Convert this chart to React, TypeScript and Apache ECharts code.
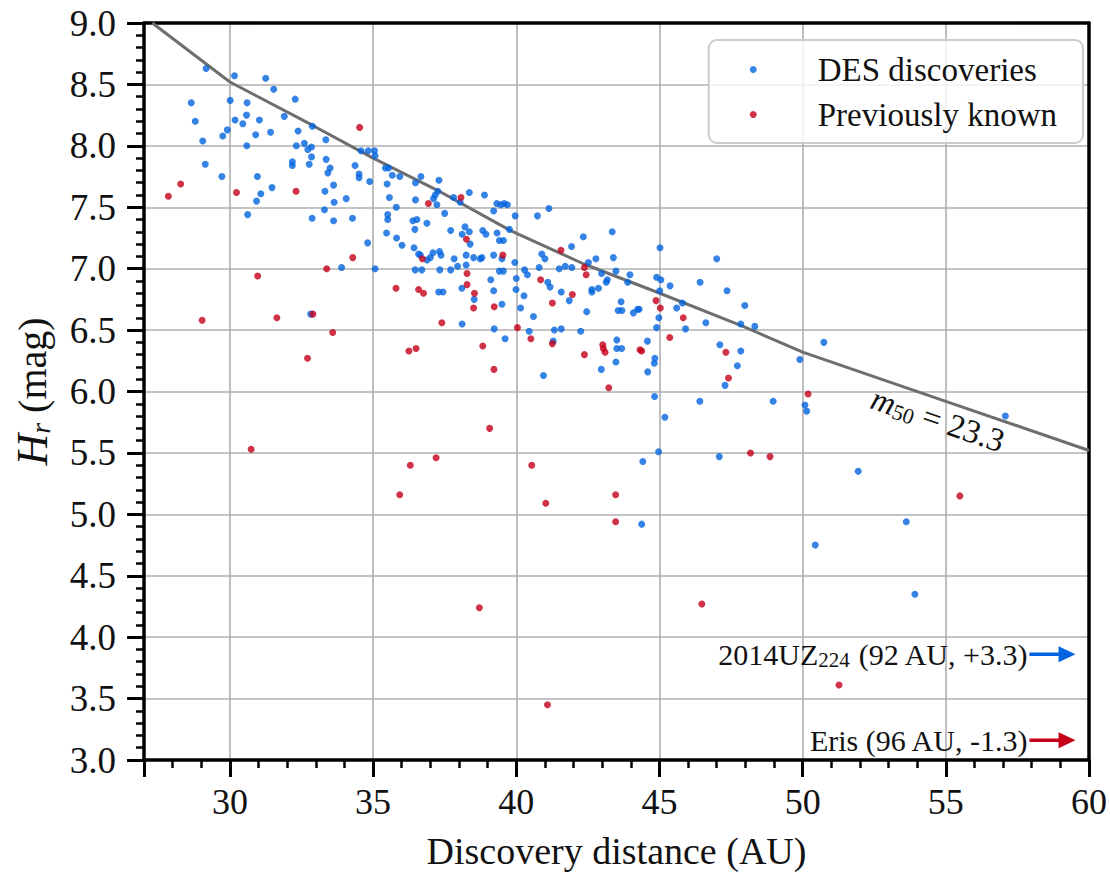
import React, { useEffect, useRef } from 'react';
import * as echarts from 'echarts';

const desDiscoveries: [number, number][] = [
  [29.17, 8.63], [30.16, 8.57], [31.25, 8.55], [31.53, 8.46], [28.65, 8.35], [30.01, 8.37], [30.6, 8.35], [32.28, 8.38],
  [28.79, 8.2], [30.18, 8.21], [30.58, 8.25], [31.03, 8.21], [30.45, 8.18], [31.9, 8.24], [29.91, 8.13], [29.75, 8.08],
  [30.9, 8.09], [31.42, 8.11], [32.38, 8.12], [32.88, 8.16], [29.05, 8.04], [33.35, 8.05], [30.59, 8.0], [32.32, 8.0],
  [32.6, 8.02], [32.72, 7.97], [32.85, 7.99], [32.85, 7.91], [32.18, 7.87], [32.18, 7.84], [32.77, 7.85], [33.36, 7.89],
  [33.5, 7.82], [33.42, 7.78], [34.37, 7.84], [34.51, 7.77], [34.51, 7.74], [34.88, 7.71], [29.14, 7.85], [29.72, 7.75],
  [30.96, 7.75], [31.47, 7.66], [31.08, 7.61], [30.93, 7.55], [30.62, 7.44], [32.87, 7.41], [33.3, 7.48], [33.32, 7.63],
  [33.62, 7.68], [33.64, 7.54], [34.06, 7.57], [33.62, 7.39], [34.28, 7.41], [34.81, 7.21], [33.9, 7.01], [34.58, 7.96],
  [34.83, 7.96], [35.05, 7.96], [35.07, 7.92], [35.07, 7.0],
  [35.43, 7.82], [35.54, 7.82], [35.67, 7.76], [35.93, 7.75], [36.67, 7.75], [37.3, 7.72], [36.48, 7.7], [35.49, 7.69],
  [37.26, 7.63], [37.17, 7.6], [37.11, 7.57], [37.81, 7.58], [38.04, 7.54], [38.36, 7.62], [38.89, 7.6], [35.57, 7.58],
  [37.23, 7.52], [36.48, 7.56], [35.81, 7.5], [35.51, 7.44], [35.51, 7.4], [37.5, 7.45], [39.32, 7.53], [39.46, 7.52],
  [39.58, 7.53], [39.69, 7.52], [39.21, 7.47], [39.96, 7.43], [40.74, 7.43], [41.14, 7.49], [36.39, 7.39], [36.53, 7.4],
  [36.46, 7.32], [36.88, 7.37], [37.71, 7.31], [38.21, 7.34], [38.11, 7.28], [38.36, 7.3], [38.83, 7.31], [38.94, 7.28],
  [39.33, 7.29], [39.76, 7.32], [39.41, 7.23], [39.55, 7.23], [38.39, 7.2], [35.47, 7.29], [35.82, 7.25], [36.01, 7.19],
  [36.43, 7.17], [36.59, 7.12], [36.65, 7.11], [36.88, 7.07], [37.0, 7.09], [37.09, 7.13], [37.32, 7.14], [37.37, 7.11],
  [37.83, 7.08], [37.95, 7.02], [38.25, 7.11], [38.25, 7.03], [38.51, 7.09], [38.74, 7.08], [38.8, 7.09], [39.21, 7.11],
  [39.5, 7.08], [39.95, 7.05], [40.29, 6.99], [40.89, 7.12], [41.0, 7.08], [41.93, 7.18], [42.34, 7.26], [42.52, 7.05],
  [42.78, 7.08], [41.5, 7.0], [41.71, 7.02], [41.94, 7.01], [40.8, 7.01],
  [36.47, 6.99], [36.7, 6.99], [37.33, 6.99], [37.71, 6.99], [39.41, 6.98], [39.55, 6.98], [40.39, 6.95], [37.29, 6.81],
  [37.44, 6.81], [38.1, 6.84], [38.53, 6.75], [39.11, 6.91], [39.21, 6.82], [39.5, 6.71], [40.0, 6.92], [39.99, 6.83],
  [40.27, 6.78], [40.15, 6.68], [40.6, 6.61], [41.1, 6.89], [41.18, 6.85], [41.57, 6.81], [41.85, 6.74], [42.46, 6.65],
  [38.11, 6.55], [39.23, 6.51], [39.61, 6.43], [40.45, 6.49], [41.33, 6.5], [41.57, 6.51], [41.29, 6.41], [42.25, 6.49],
  [40.95, 6.13], [32.82, 6.63],
  [42.98, 6.96], [43.14, 6.89], [43.18, 6.91], [42.64, 6.83], [42.64, 6.81], [42.87, 6.84], [43.48, 6.98], [43.97, 6.95],
  [43.89, 6.89], [44.9, 6.93], [45.05, 6.91], [45.37, 6.86], [45.01, 6.82], [46.42, 6.89], [47.36, 6.82], [43.66, 6.73],
  [43.56, 6.66], [43.69, 6.66], [44.09, 6.64], [44.24, 6.67], [44.29, 6.67], [44.98, 6.6], [44.9, 6.52], [45.6, 6.68],
  [45.8, 6.72], [45.91, 6.51], [46.62, 6.56], [47.98, 6.7], [47.84, 6.55], [48.33, 6.53], [43.51, 6.42], [43.51, 6.35],
  [43.68, 6.35], [44.58, 6.41], [43.48, 6.24], [42.97, 6.18], [44.59, 6.16], [44.84, 6.27], [44.82, 6.23], [47.11, 6.38],
  [47.84, 6.33], [47.72, 6.21], [47.29, 6.05], [49.9, 6.26], [44.83, 5.96], [45.19, 5.79], [46.41, 5.92], [48.97, 5.92],
  [50.08, 5.89], [50.14, 5.84], [44.97, 5.51], [44.42, 5.43], [47.09, 5.47], [44.38, 4.92],
  [43.35, 7.3], [45.02, 7.17], [43.39, 7.09], [47.0, 7.08],
  [50.74, 6.4], [57.08, 5.8], [51.94, 5.35], [53.62, 4.94], [50.44, 4.75], [53.92, 4.35],
];

const previouslyKnown: [number, number][] = [
  [34.53, 8.15], [28.28, 7.69], [27.85, 7.59], [30.23, 7.62], [32.31, 7.63], [34.29, 7.09], [33.38, 7.0],
  [38.07, 7.58], [36.93, 7.53], [38.26, 7.24], [36.72, 7.08], [39.53, 7.11], [41.56, 7.15], [42.38, 7.01],
  [38.28, 6.96], [35.8, 6.84], [36.59, 6.83], [36.76, 6.8], [38.28, 6.87], [38.54, 6.8], [38.51, 6.68], [39.23, 6.69],
  [40.85, 6.91], [41.26, 6.72], [41.96, 6.79], [37.4, 6.56], [40.04, 6.52], [40.51, 6.43], [41.26, 6.39], [42.38, 6.3],
  [36.25, 6.33], [36.5, 6.35], [38.83, 6.37], [39.22, 6.18], [39.07, 5.7], [37.2, 5.46], [36.3, 5.4], [40.54, 5.4],
  [35.93, 5.16], [41.03, 5.09], [42.44, 6.95],
  [30.97, 6.94], [29.03, 6.58], [31.64, 6.6], [32.9, 6.63], [33.59, 6.48], [32.71, 6.27], [30.74, 5.53],
  [44.88, 6.74], [45.03, 6.68], [45.83, 6.6], [45.36, 6.44], [43.02, 6.38], [43.04, 6.35], [43.1, 6.32], [44.32, 6.34],
  [44.38, 6.33], [47.32, 6.32], [47.41, 6.11], [43.23, 6.03], [50.19, 5.98], [48.18, 5.5], [48.86, 5.47], [43.47, 5.16],
  [43.47, 4.94],
  [38.71, 4.24], [41.09, 3.45], [46.48, 4.27],
  [55.49, 5.15], [51.27, 3.61],
];

const m50Curve: [number, number][] = [
  [27.29, 9.0], [30.0, 8.52], [32.86, 8.17], [35.0, 7.9], [37.23, 7.64], [39.8, 7.31], [42.34, 7.04],
  [44.9, 6.81], [47.92, 6.53], [50.0, 6.32], [55.0, 5.92], [60.0, 5.52],
];

const xLabels = [30, 35, 40, 45, 50, 55, 60];

const BLUE = '#0464e0';
const RED = '#c4001a';
const FONT = "'Liberation Serif', 'Times New Roman', serif";

export default function App() {
  const ref = useRef<HTMLDivElement>(null);
  useEffect(() => {
    const chart = echarts.init(ref.current!, null, { renderer: 'svg' });
    const frameAxis = {
      type: 'value',
      axisLine: { show: true, lineStyle: { color: '#000', width: 3.5 } },
      axisTick: { show: false },
      axisLabel: { show: false },
      splitLine: { show: false },
    };
    const option: any = {
      animation: false,
      backgroundColor: '#fff',
      textStyle: { fontFamily: FONT },
      grid: { left: 144, right: 21, top: 23, bottom: 113, outerBoundsMode: 'none', containLabel: false },
      legend: {
        data: ['DES discoveries', 'Previously known'],
        orient: 'vertical',
        right: 27,
        top: 40,
        padding: [13, 26, 12, 41],
        itemGap: 12,
        itemWidth: 7,
        itemHeight: 7,
        backgroundColor: 'rgba(255,255,255,0.8)',
        borderColor: '#cccccc',
        borderWidth: 2,
        borderRadius: 8,
        formatter: (name: string) => `{pad|}{t|${name}}`,
        textStyle: {
          fontFamily: FONT,
          rich: {
            pad: { width: 56 },
            t: { fontSize: 33, fontFamily: FONT, color: '#111', lineHeight: 34 },
          },
        },
      },
      xAxis: [
        {
          type: 'value',
          min: 27,
          max: 60,
          splitNumber: 7,
          axisLine: { show: true, lineStyle: { color: '#000', width: 3.5 } },
          axisTick: { show: true, length: 17, lineStyle: { color: '#000', width: 3 } },
          minorTick: { show: true, splitNumber: 5, length: 8, lineStyle: { color: '#000', width: 2.5 } },
          splitLine: { show: true, lineStyle: { color: '#b0b0b0', width: 1.6 } },
          axisLabel: {
            fontSize: 36, color: '#111', margin: 24, fontFamily: FONT,
            formatter: (v: number) => (xLabels.includes(v) ? String(v) : ''),
          },
          name: 'Discovery distance (AU)',
          nameLocation: 'middle',
          nameGap: 72,
          nameTextStyle: { fontSize: 38, color: '#111', fontFamily: FONT },
        },
        { ...frameAxis, position: 'top', min: 27, max: 60 },
      ],
      yAxis: [
        {
          type: 'value',
          min: 3,
          max: 9,
          interval: 0.5,
          axisLine: { show: true, lineStyle: { color: '#000', width: 3.5 } },
          axisTick: { show: true, length: 17, lineStyle: { color: '#000', width: 3 } },
          minorTick: { show: true, splitNumber: 5, length: 8, lineStyle: { color: '#000', width: 2.5 } },
          splitLine: { show: true, lineStyle: { color: '#b0b0b0', width: 1.6 } },
          axisLabel: {
            fontSize: 37, color: '#111', margin: 28, fontFamily: FONT,
            formatter: (v: number) => v.toFixed(1),
          },
          name: '{i|H}{s|r} (mag)',
          nameLocation: 'middle',
          nameGap: 90,
          nameRotate: 90,
          nameTextStyle: {
            fontSize: 40, color: '#111', fontFamily: FONT,
            rich: {
              i: { fontSize: 44, fontStyle: 'italic', fontFamily: FONT, color: '#111' },
              s: { fontSize: 28, fontStyle: 'italic', fontFamily: FONT, color: '#111', verticalAlign: 'bottom', padding: [14, 0, 0, 0] },
            },
          },
        },
        { ...frameAxis, position: 'right', min: 3, max: 9 },
      ],
      series: [
        {
          name: 'm50',
          type: 'line',
          data: m50Curve,
          showSymbol: false,
          symbol: 'none',
          lineStyle: { color: '#6e6e6e', width: 3 },
          silent: true,
          z: 2,
        },
        {
          name: 'DES discoveries',
          type: 'scatter',
          data: desDiscoveries,
          symbolSize: 7,
          itemStyle: { color: BLUE },
          z: 3,
        },
        {
          name: 'Previously known',
          type: 'scatter',
          data: previouslyKnown,
          symbolSize: 7,
          itemStyle: { color: RED },
          z: 4,
        },
      ],
    };
    chart.setOption(option);

    const toPx = (p: [number, number]) => chart.convertToPixel({ xAxisIndex: 0, yAxisIndex: 0 }, p) as number[];
    const arrow = (y: number, color: string) => {
      const a = toPx([57.92, y]);
      const b = toPx([59.53, y]);
      return [
        { type: 'line', shape: { x1: a[0], y1: a[1], x2: b[0] - 14, y2: b[1] }, style: { stroke: color, lineWidth: 3.5 }, z: 10 },
        { type: 'polygon', shape: { points: [[b[0], b[1]], [b[0] - 17, b[1] - 8], [b[0] - 17, b[1] + 8]] }, style: { fill: color }, z: 10 },
      ];
    };
    const uzPos = toPx([57.85, 3.86]);
    const erisPos = toPx([57.85, 3.16]);
    const mPos = toPx([54.72, 5.77]);
    chart.setOption({
      graphic: [
        ...arrow(3.86, BLUE),
        ...arrow(3.16, RED),
        {
          type: 'text', x: uzPos[0], y: uzPos[1], z: 10,
          style: {
            text: '{n|2014UZ}{s|224}{n| (92 AU, +3.3)}',
            align: 'right', verticalAlign: 'middle',
            rich: {
              n: { fontSize: 30, fontFamily: FONT, fill: '#111' },
              s: { fontSize: 21, fontFamily: FONT, fill: '#111', verticalAlign: 'bottom', padding: [12, 0, 0, 0] },
            },
          },
        },
        {
          type: 'text', x: erisPos[0], y: erisPos[1], z: 10,
          style: {
            text: 'Eris (96 AU, -1.3)', align: 'right', verticalAlign: 'middle',
            fontSize: 30, fontFamily: FONT, fill: '#111',
          },
        },
        {
          type: 'text', x: mPos[0], y: mPos[1], rotation: -0.33, z: 10,
          style: {
            text: '{i|m}{s|50}{n| = 23.3}', align: 'center', verticalAlign: 'middle',
            rich: {
              i: { fontSize: 33, fontStyle: 'italic', fontFamily: FONT, fill: '#111' },
              s: { fontSize: 22, fontFamily: FONT, fill: '#111', verticalAlign: 'bottom', padding: [12, 0, 0, 0] },
              n: { fontSize: 33, fontFamily: FONT, fill: '#111' },
            },
          },
        },
      ],
    });
    return () => chart.dispose();
  }, []);
  return <div ref={ref} style={{ position: 'fixed', left: 0, top: 0, width: 1110, height: 873 }} />;
}
